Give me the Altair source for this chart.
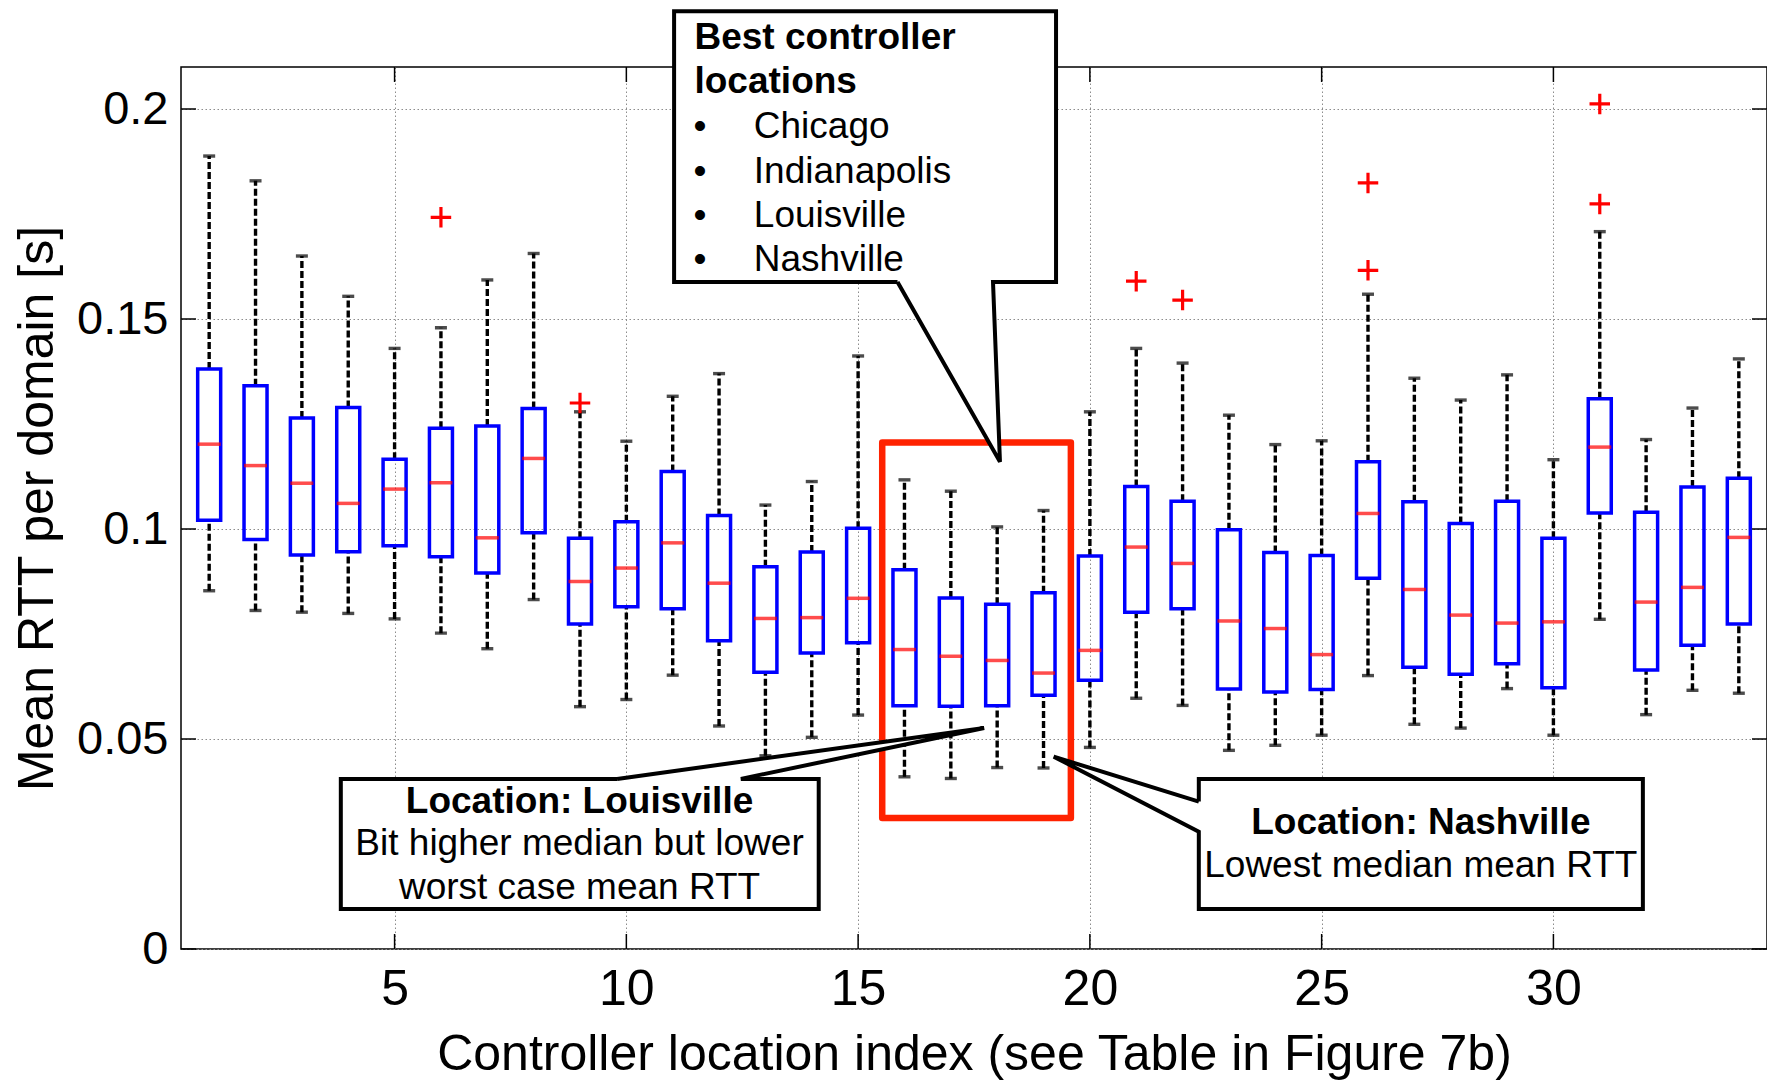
import altair as alt
import pandas as pd

# ---------------- data ----------------
idx = list(range(1, 35))
lower = [0.0853, 0.0806, 0.0802, 0.0799, 0.0786, 0.0752, 0.0715, 0.0832, 0.0577, 0.0594,
         0.0652, 0.0531, 0.0460, 0.0504, 0.0557, 0.0410, 0.0406, 0.0432, 0.0431, 0.0480,
         0.0597, 0.0580, 0.0473, 0.0485, 0.0509, 0.0651, 0.0535, 0.0526, 0.0620, 0.0509,
         0.0785, 0.0558, 0.0616, 0.0609]
q1 = [0.1021, 0.0975, 0.0938, 0.0946, 0.0960, 0.0934, 0.0895, 0.0991, 0.0774, 0.0815,
      0.0810, 0.0734, 0.0659, 0.0705, 0.0729, 0.0579, 0.0578, 0.0579, 0.0604, 0.0640,
      0.0802, 0.0810, 0.0619, 0.0612, 0.0618, 0.0883, 0.0671, 0.0654, 0.0679, 0.0622,
      0.1038, 0.0664, 0.0723, 0.0774]
median = [0.1202, 0.1151, 0.1109, 0.1061, 0.1095, 0.1110, 0.0979, 0.1168, 0.0875, 0.0907,
          0.0967, 0.0871, 0.0787, 0.0789, 0.0835, 0.0713, 0.0697, 0.0687, 0.0657, 0.0711,
          0.0957, 0.0918, 0.0781, 0.0763, 0.0701, 0.1037, 0.0856, 0.0795, 0.0776, 0.0779,
          0.1195, 0.0826, 0.0861, 0.0980]
q3 = [0.1381, 0.1341, 0.1264, 0.1289, 0.1166, 0.1240, 0.1245, 0.1287, 0.0978, 0.1017,
      0.1137, 0.1032, 0.0910, 0.0945, 0.1002, 0.0903, 0.0836, 0.0821, 0.0848, 0.0936,
      0.1101, 0.1066, 0.0998, 0.0944, 0.0937, 0.1160, 0.1065, 0.1013, 0.1066, 0.0978,
      0.1310, 0.1040, 0.1100, 0.1121]
upper = [0.1888, 0.1829, 0.1650, 0.1554, 0.1430, 0.1479, 0.1593, 0.1656, 0.1279, 0.1209,
         0.1316, 0.1370, 0.1057, 0.1113, 0.1412, 0.1117, 0.1090, 0.1005, 0.1044, 0.1279,
         0.1430, 0.1395, 0.1271, 0.1201, 0.1210, 0.1559, 0.1359, 0.1307, 0.1367, 0.1165,
         0.1708, 0.1213, 0.1288, 0.1405]
out_x = [6, 9, 21, 22, 26, 26, 31, 31]
out_y = [0.1742, 0.1300, 0.1590, 0.1545, 0.1824, 0.1616, 0.2012, 0.1774]

x_ticks = [5, 10, 15, 20, 25, 30]
y_ticks = [0, 0.05, 0.1, 0.15, 0.2]

# annotation geometry (data units)
red_x = [15.52, 19.59, 19.59, 15.52, 15.52]
red_y = [0.1206, 0.1206, 0.0312, 0.0312, 0.1206]

call_best_x = [15.85, 18.06, 17.91, 19.27, 19.27, 11.03, 11.03, 15.85]
call_best_y = [0.1588, 0.1160, 0.1588, 0.1588, 0.2233, 0.2233, 0.1588, 0.1588]
call_lou_x = [9.80, 17.72, 12.47, 14.15, 14.15, 3.84, 3.84, 9.80]
call_lou_y = [0.0405, 0.0526, 0.0405, 0.0405, 0.0095, 0.0095, 0.0405, 0.0405]
call_nas_x = [22.35, 19.22, 22.35, 22.35, 31.93, 31.93, 22.35, 22.35]
call_nas_y = [0.0351, 0.0458, 0.0279, 0.0095, 0.0095, 0.0405, 0.0405, 0.0351]

# callout box bodies (without the tails)
box_x = [11.03, 3.84, 22.35]
box_x2 = [19.27, 14.15, 31.93]
box_y = [0.1588, 0.0095, 0.0095]
box_y2 = [0.2233, 0.0405, 0.0405]

best_title = ["Best controller", "locations"]
best_title_y = [0.2143, 0.2038]
best_items = ["Chicago", "Indianapolis", "Louisville", "Nashville"]
best_items_y = [0.1931, 0.1824, 0.1719, 0.1614]
lou_lines = ["Location: Louisville", "Bit higher median but lower", "worst case mean RTT"]
lou_y = [0.0351, 0.0249, 0.0146]
nas_lines = ["Location: Nashville", "Lowest median mean RTT"]
nas_y = [0.0300, 0.0198]

# ---------------- chart ----------------
W, H = 1586, 882
FONT = "Liberation Sans"

xscale = alt.Scale(domain=[0.5, 34.5], nice=False, zero=False)
yscale = alt.Scale(domain=[0, 0.21], nice=False, zero=False)
xaxis = alt.Axis(values=x_ticks, title="Controller location index (see Table in Figure 7b)",
                 grid=True, gridDash=[1.5, 2.5], gridColor="#8c8c8c", gridWidth=1,
                 ticks=False, tickSize=0, domain=False,
                 labelFont=FONT, labelFontSize=50, labelColor="black", labelPadding=15,
                 titleFont=FONT, titleFontSize=50, titleFontWeight="normal", titleColor="black",
                 titleBaseline="alphabetic", titleY=120, titleX=W / 2)
yaxis = alt.Axis(values=y_ticks, format="~g", title="Mean RTT per domain [s]",
                 grid=True, gridDash=[1.5, 2.5], gridColor="#8c8c8c", gridWidth=1,
                 ticks=False, tickSize=0, domain=False,
                 labelFont=FONT, labelFontSize=47, labelColor="black", labelPadding=13,
                 titleFont=FONT, titleFontSize=50, titleFontWeight="normal", titleColor="black",
                 titleAngle=-90, titleBaseline="alphabetic", titleAlign="center",
                 titleX=-129, titleY=H / 2)


def X(f):
    return alt.X(f, type="quantitative", scale=xscale, axis=xaxis)


def Y(f):
    return alt.Y(f, type="quantitative", scale=yscale, axis=yaxis)


df = pd.DataFrame({"idx": idx, "lo": lower, "q1": q1, "med": median, "q3": q3, "hi": upper})
base = alt.Chart(df)

wh_up = base.mark_rule(color="black", strokeWidth=3.4, strokeDash=[7, 3]).encode(
    x=X("idx"), y=Y("q3"), y2="hi")
wh_lo = base.mark_rule(color="black", strokeWidth=3.4, strokeDash=[7, 3]).encode(
    x=X("idx"), y=Y("lo"), y2="q1")
cap_hi = base.mark_tick(orient="horizontal", color="black", size=12, thickness=3.4).encode(
    x=X("idx"), y=Y("hi"))
cap_lo = base.mark_tick(orient="horizontal", color="black", size=12, thickness=3.4).encode(
    x=X("idx"), y=Y("lo"))
boxes = base.mark_bar(size=23, fill="transparent", stroke="#0000ff", strokeWidth=3.5).encode(
    x=X("idx"), y=Y("q1"), y2="q3")
meds = base.mark_tick(orient="horizontal", color="#ff0000", size=23, thickness=3.5).encode(
    x=X("idx"), y=Y("med"))
outs = alt.Chart(pd.DataFrame({"x": out_x, "y": out_y})).mark_point(
    shape="M-1,0L1,0M0,-1L0,1", size=420, filled=False, color="#ff0000", strokeWidth=3.2,
    opacity=1).encode(x=X("x"), y=Y("y"))

# inward ticks on all four sides
tx = alt.Chart(pd.DataFrame({"t": x_ticks}))
ty = alt.Chart(pd.DataFrame({"t": y_ticks}))
tick_b = tx.mark_rule(color="black", strokeWidth=1.5).encode(x=X("t"), y=alt.value(H), y2=alt.value(H - 15))
tick_t = tx.mark_rule(color="black", strokeWidth=1.5).encode(x=X("t"), y=alt.value(0), y2=alt.value(15))
tick_l = ty.mark_rule(color="black", strokeWidth=1.5).encode(y=Y("t"), x=alt.value(0), x2=alt.value(15))
tick_r = ty.mark_rule(color="black", strokeWidth=1.5).encode(y=Y("t"), x=alt.value(W), x2=alt.value(W - 15))

redrect = alt.Chart(pd.DataFrame({"o": list(range(5)), "x": red_x, "y": red_y})).mark_line(
    color="#ff2200", strokeWidth=6.5, strokeJoin="round", strokeCap="round").encode(
    x=X("x"), y=Y("y"), order=alt.Order("o:Q"))

# callout white backgrounds: box bodies + tail triangles
callout_bg = alt.Chart(pd.DataFrame({"x": box_x, "x2": box_x2, "y": box_y, "y2": box_y2})).mark_rect(
    fill="white", strokeWidth=0).encode(x=X("x"), x2="x2", y=Y("y"), y2="y2")

# tails whose base is horizontal (best, louisville): y is the independent axis
tail_h = pd.DataFrame({
    "id": ["best", "best", "lou", "lou"],
    "y": [call_best_y[0], call_best_y[1], call_lou_y[0], call_lou_y[1]],
    "xa": [call_best_x[0], call_best_x[1], call_lou_x[0], call_lou_x[1]],
    "xb": [call_best_x[2], call_best_x[1], call_lou_x[2], call_lou_x[1]],
})
tail_h_area = alt.Chart(tail_h).mark_area(orient="horizontal", fill="white", strokeWidth=0,
                                          opacity=1).encode(
    y=Y("y"), x=X("xa"), x2="xb", detail="id:N")
# tail whose base is vertical (nashville): x is the independent axis
tail_v = pd.DataFrame({
    "x": [call_nas_x[1], call_nas_x[0]],
    "ya": [call_nas_y[1], call_nas_y[2]],
    "yb": [call_nas_y[1], call_nas_y[0]],
})
tail_v_area = alt.Chart(tail_v).mark_area(orient="vertical", fill="white", strokeWidth=0,
                                          opacity=1).encode(
    x=X("x"), y=Y("ya"), y2="yb")

poly_rows = []
for name, xs, ys in [("best", call_best_x, call_best_y), ("lou", call_lou_x, call_lou_y),
                     ("nas", call_nas_x, call_nas_y)]:
    for i, (a, b) in enumerate(zip(xs, ys)):
        poly_rows.append({"id": name, "o": i, "x": a, "y": b})
callout_outline = alt.Chart(pd.DataFrame(poly_rows)).mark_line(
    color="black", strokeWidth=4, strokeJoin="miter").encode(
    x=X("x"), y=Y("y"), detail="id:N", order=alt.Order("o:Q"))

FS = 37
t_best_title = alt.Chart(pd.DataFrame({"t": best_title, "x": [11.47] * 2, "y": best_title_y})).mark_text(
    font=FONT, fontSize=FS, fontWeight="bold", align="left", baseline="alphabetic", color="black").encode(
    x=X("x"), y=Y("y"), text="t")
t_bul = alt.Chart(pd.DataFrame({"t": ["•"] * 4, "x": [11.45] * 4, "y": best_items_y})).mark_text(
    font=FONT, fontSize=FS, align="left", baseline="alphabetic", color="black").encode(
    x=X("x"), y=Y("y"), text="t")
t_items = alt.Chart(pd.DataFrame({"t": best_items, "x": [12.75] * 4, "y": best_items_y})).mark_text(
    font=FONT, fontSize=FS, align="left", baseline="alphabetic", color="black").encode(
    x=X("x"), y=Y("y"), text="t")

lou_df = pd.DataFrame({"t": lou_lines, "x": [8.99] * 3, "y": lou_y})
t_lou_b = alt.Chart(lou_df.iloc[:1]).mark_text(
    font=FONT, fontSize=FS, fontWeight="bold", align="center", baseline="middle", color="black").encode(
    x=X("x"), y=Y("y"), text="t")
t_lou = alt.Chart(lou_df.iloc[1:]).mark_text(
    font=FONT, fontSize=FS, align="center", baseline="middle", color="black").encode(
    x=X("x"), y=Y("y"), text="t")
nas_df = pd.DataFrame({"t": nas_lines, "x": [27.14] * 2, "y": nas_y})
t_nas_b = alt.Chart(nas_df.iloc[:1]).mark_text(
    font=FONT, fontSize=FS, fontWeight="bold", align="center", baseline="middle", color="black").encode(
    x=X("x"), y=Y("y"), text="t")
t_nas = alt.Chart(nas_df.iloc[1:]).mark_text(
    font=FONT, fontSize=FS, align="center", baseline="middle", color="black").encode(
    x=X("x"), y=Y("y"), text="t")

chart = alt.layer(
    wh_up, wh_lo, boxes, meds, cap_hi, cap_lo, outs,
    tick_b, tick_t, tick_l, tick_r,
    redrect, callout_bg, tail_h_area, tail_v_area, callout_outline,
    t_best_title, t_bul, t_items, t_lou_b, t_lou, t_nas_b, t_nas,
).properties(
    width=W, height=H, autosize="none",
    padding={"left": 173, "top": 59, "right": 0, "bottom": 131},
    background="white",
).configure_view(stroke="black", strokeWidth=1.5)

chart.save("out.html", embed_options={"renderer": "svg", "actions": False})
